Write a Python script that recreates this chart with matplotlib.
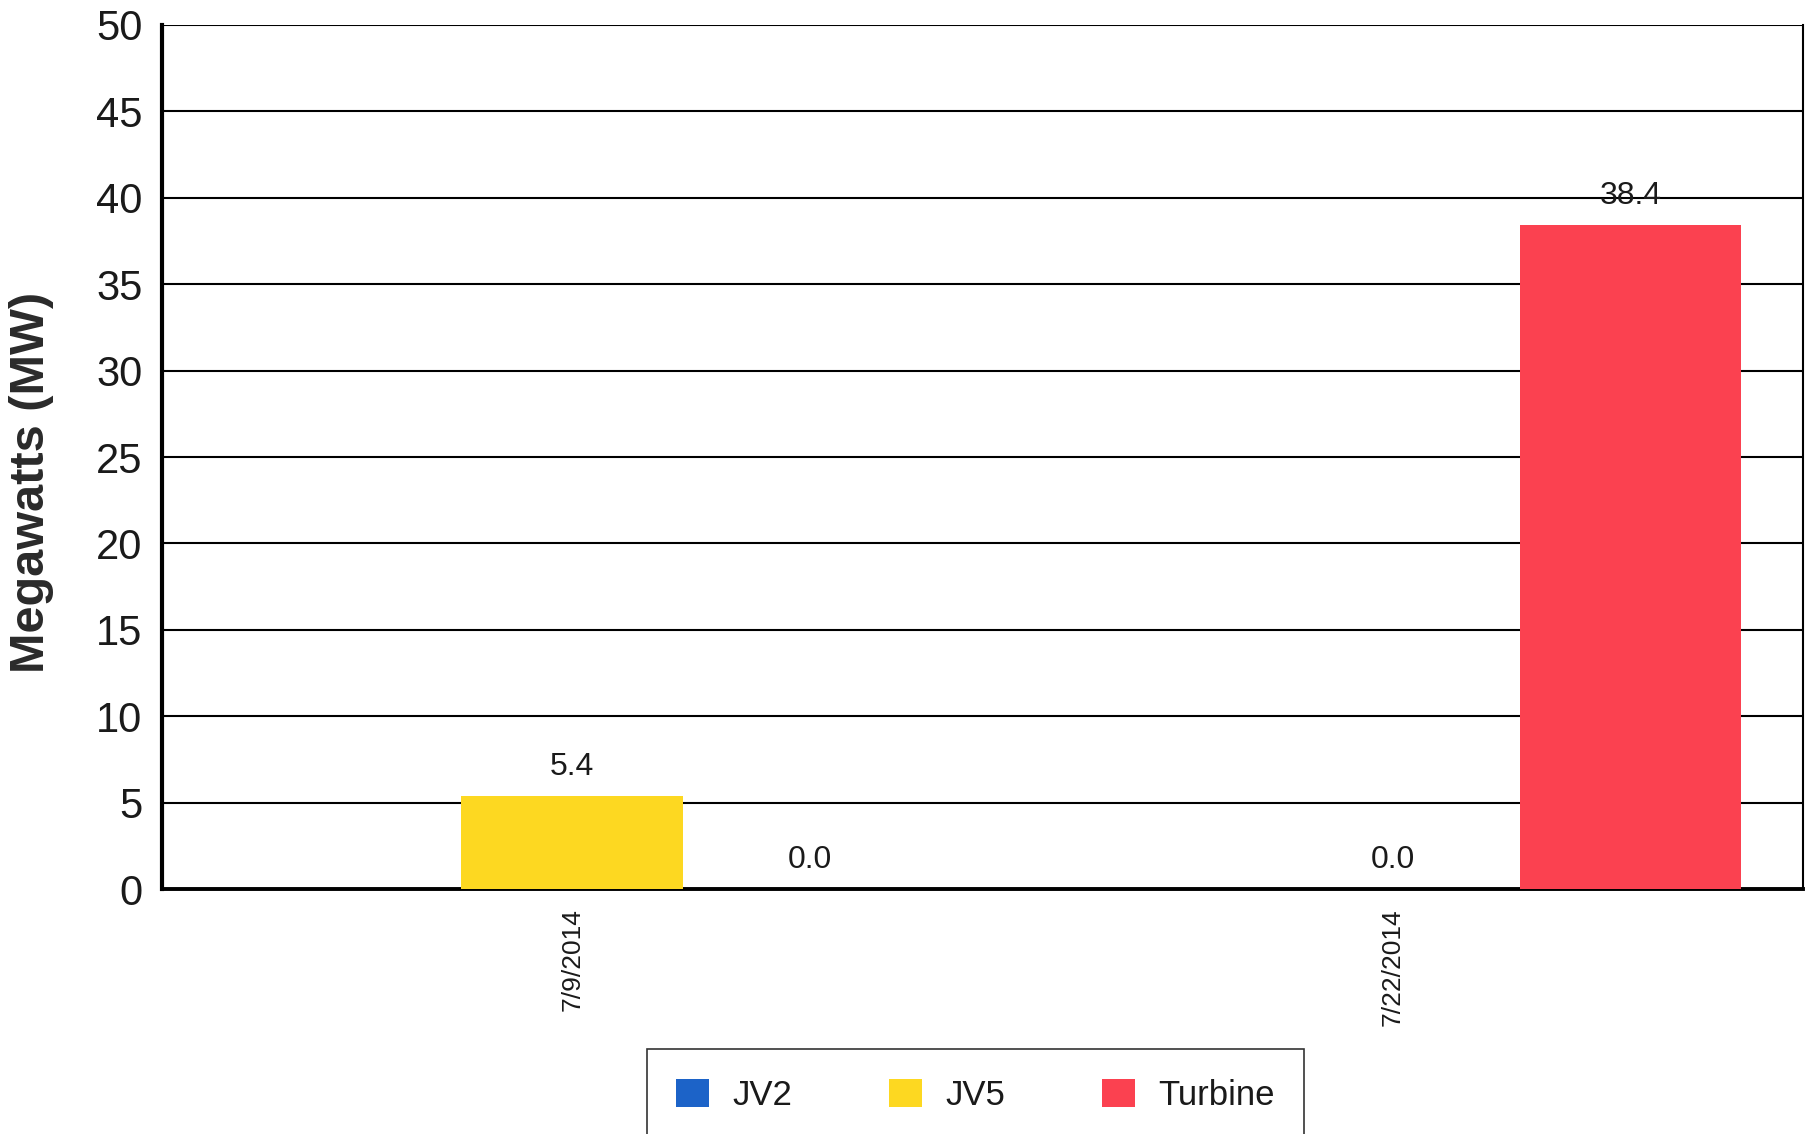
import numpy as np
import matplotlib
matplotlib.use('Agg')
import matplotlib.pyplot as plt

# Data
dates = ['7/9/2014', '7/22/2014']
jv2_mw = [np.nan, np.nan]      # no JV2 values shown
jv5_mw = [5.4, 0.0]
turbine_mw = [0.0, 38.4]

series = [
    ('JV2', jv2_mw, '#1c63c8'),
    ('JV5', jv5_mw, '#fdd821'),
    ('Turbine', turbine_mw, '#fb4150'),
]

plt.rcParams.update({
    'font.family': ['Liberation Sans', 'DejaVu Sans'],
    'text.color': '#1a1a1a',
    'axes.labelcolor': '#2a2a2a',
    'xtick.color': '#1a1a1a',
    'ytick.color': '#1a1a1a',
})

fig = plt.figure(figsize=(18.1, 11.34), dpi=100)
ax = fig.add_axes([0.0895, 0.216, 0.9066, 0.762])

x = np.arange(len(dates))
offset = 0.29
width = 0.27

for i, (name, vals, color) in enumerate(series):
    pos = x + (i - 1) * offset
    ax.bar(pos, vals, width=width, color=color, label=name, zorder=3)
    for px, v in zip(pos, vals):
        if np.isnan(v):
            continue
        ax.annotate(f'{v:.1f}', (px, v), xytext=(0, 21), textcoords='offset points',
                    ha='center', va='center', fontsize=23, zorder=4)

ax.set_xlim(-0.5, 1.5)
ax.set_ylim(0, 50)
ax.set_yticks(np.arange(0, 51, 5))
ax.set_xticks(x)
ax.set_xticklabels(dates, rotation=90, fontsize=19)
ax.tick_params(axis='y', labelsize=30, length=0, pad=14)
ax.tick_params(axis='x', length=0, pad=14)

ax.yaxis.grid(True, color='black', linewidth=1.5, zorder=0)
ax.set_axisbelow(True)
ax.spines['top'].set_visible(False)
ax.spines['left'].set_linewidth(3)
ax.spines['bottom'].set_linewidth(2.8)
ax.spines['right'].set_linewidth(1.5)

ax.set_ylabel('Megawatts (MW)', fontsize=35, fontweight='bold')
ax.yaxis.set_label_coords(-0.066, 0.47)

leg = fig.legend(loc='upper center', bbox_to_anchor=(0.539, 1 - 1049 / 1134),
                 ncol=3, fontsize=25, frameon=True, fancybox=False,
                 handlelength=0.95, handleheight=0.9, handletextpad=0.66,
                 columnspacing=2.8, borderpad=0.85, borderaxespad=0)
leg.get_frame().set_edgecolor('black')
leg.get_frame().set_linewidth(1.2)

fig.savefig('out.png', dpi=100, facecolor='white')
